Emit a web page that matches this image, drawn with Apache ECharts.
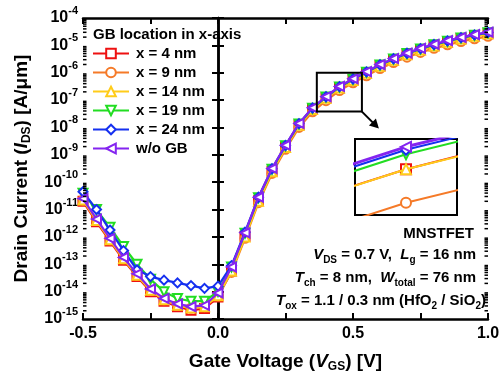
<!DOCTYPE html>
<html><head><meta charset="utf-8">
<script src="https://cdn.jsdelivr.net/npm/echarts@6/dist/echarts.min.js"></script>
<style>html,body{margin:0;padding:0;background:#fff}#c{width:504px;height:380px}</style>
</head><body><div id="c"></div>
<script>
// Gate voltage (V)
const vgs = [-0.5,-0.45,-0.4,-0.35,-0.3,-0.25,-0.2,-0.15,-0.1,-0.05,0.0,0.05,0.1,0.15,0.2,0.25,0.3,0.35,0.4,0.45,0.5,0.55,0.6,0.65,0.7,0.75,0.8,0.85,0.9,0.95,1.0];
// log10 of drain current (A/um) for each GB location
const x4nm  = [-10.7,-11.45,-12.15,-12.85,-13.45,-14.0,-14.35,-14.55,-14.68,-14.62,-14.2,-13.25,-11.98,-10.68,-9.6,-8.72,-7.91,-7.33,-6.922,-6.56,-6.272,-6.012,-5.752,-5.532,-5.332,-5.162,-5.012,-4.882,-4.762,-4.662,-4.572];
const x9nm  = [-10.65,-11.4,-12.1,-12.8,-13.4,-13.95,-14.3,-14.5,-14.6,-14.55,-14.15,-13.3,-12.05,-10.75,-9.68,-8.8,-8.0,-7.43,-7.02,-6.65,-6.37,-6.11,-5.85,-5.63,-5.43,-5.26,-5.11,-4.98,-4.86,-4.76,-4.67];
const x14nm = [-10.65,-11.4,-12.1,-12.8,-13.4,-13.95,-14.3,-14.5,-14.6,-14.55,-14.15,-13.25,-12.0,-10.7,-9.62,-8.73,-7.92,-7.34,-6.93,-6.56,-6.28,-6.02,-5.76,-5.54,-5.34,-5.17,-5.02,-4.89,-4.77,-4.67,-4.58];
const x19nm = [-10.4,-11.0,-11.65,-12.35,-13.0,-13.55,-14.0,-14.25,-14.35,-14.35,-14.0,-13.1,-11.87,-10.57,-9.53,-8.67,-7.87,-7.3,-6.89,-6.52,-6.24,-5.98,-5.72,-5.5,-5.3,-5.13,-4.98,-4.85,-4.73,-4.63,-4.54];
const x24nm = [-10.35,-11.0,-11.75,-12.5,-13.2,-13.45,-13.58,-13.68,-13.78,-13.88,-13.8,-13.05,-11.83,-10.55,-9.51,-8.66,-7.86,-7.29,-6.878,-6.508,-6.228,-5.968,-5.708,-5.488,-5.288,-5.118,-4.968,-4.838,-4.718,-4.618,-4.528];
const noGB  = [-10.6,-11.35,-12.05,-12.75,-13.35,-13.9,-14.25,-14.45,-14.55,-14.5,-14.05,-13.1,-11.85,-10.55,-9.5,-8.65,-7.85,-7.28,-6.87,-6.5,-6.22,-5.96,-5.7,-5.48,-5.28,-5.11,-4.96,-4.83,-4.71,-4.61,-4.52];
const seriesNames = ['x = 4 nm','x = 9 nm','x = 14 nm','x = 19 nm','x = 24 nm','w/o GB'];
const yTickExps = [-15,-4];   // y axis range (decades)
const xTicks = [-0.5, 1.0, 0.25];
const inX = [0.444, 0.456];   // inset window
const inY = [-6.683, -6.479];

const F = '"Liberation Sans", Arial, sans-serif';
const styles = [
  {d:x4nm,  c:'#ee1111', s:'emptyRect', r:0},
  {d:x9nm,  c:'#f57a28', s:'emptyCircle', r:0},
  {d:x14nm, c:'#ffcc1a', s:'emptyTriangle', r:0},
  {d:x19nm, c:'#22dd22', s:'emptyTriangle', r:180},
  {d:x24nm, c:'#1530f0', s:'emptyDiamond', r:0},
  {d:noGB,  c:'#8424f0', s:'emptyTriangle', r:90}
];

const series = [];
styles.forEach((st, k) => {
  const data = vgs.map((v, i) => [v, Math.pow(10, st.d[i])]);
  series.push({
    name: seriesNames[k], type:'line', xAxisIndex:0, yAxisIndex:0, data,
    symbol: st.s, symbolRotate: st.r, symbolSize: 9, z: 2 + k,
    lineStyle:{color: st.c, width: 2.2}, itemStyle:{color: st.c, borderWidth: 1.6},
    animation:false
  });
});
styles.forEach((st, k) => {
  const data = vgs.map((v, i) => [v, Math.pow(10, st.d[i])]);
  series.push({
    name: seriesNames[k], type:'line', xAxisIndex:2, yAxisIndex:2, data,
    symbol: st.s, symbolRotate: st.r, symbolSize: 10, z: 2 + k, clip: true,
    lineStyle:{color: st.c, width: k === 5 ? 3 : 2}, itemStyle:{color: st.c, borderWidth: 1.6},
    animation:false
  });
});

const axisLine = {show:true, lineStyle:{color:'#000', width:2.5}};
const tick = {show:true, inside:true, length:6, lineStyle:{color:'#000', width:2}};
const chart = echarts.init(document.getElementById('c'), null, {renderer:'canvas'});
const option = {
  animation:false,
  backgroundColor:'#fff',
  title:{text:'GB location in x-axis', left:88, top:22, textStyle:{fontFamily:F, fontSize:15, fontWeight:'bold', color:'#000'}},
  legend:{orient:'vertical', left:87, top:41, itemWidth:36, itemHeight:12, itemGap:4,
    data: seriesNames,
    textStyle:{fontFamily:F, fontSize:15, fontWeight:'bold', color:'#000', padding:[0,0,0,2]}},
  grid:[
    {left:83, right:16, top:18, bottom:61},
    {left:355, top:139, width:102, height:76, show:true, borderColor:'#000', borderWidth:2, backgroundColor:'#fff', z:1}
  ],
  xAxis:[
    {type:'value', gridIndex:0, position:'bottom', min:xTicks[0], max:xTicks[1], interval:xTicks[2],
     axisLine, axisTick:tick, splitLine:{show:false},
     axisLabel:{margin:7, fontFamily:F, fontSize:16, fontWeight:'bold', color:'#000',
       formatter: v => (Math.abs(v*2 - Math.round(v*2)) < 1e-6) ? v.toFixed(1) : ''},
     name:'Gate Voltage ({i|V}{sub|GS}) [V]', nameLocation:'middle', nameGap:31,
     nameTextStyle:{fontFamily:F, fontSize:19, fontWeight:'bold', color:'#000',
       rich:{i:{fontFamily:F, fontSize:19, fontWeight:'bold', fontStyle:'italic', color:'#000'},
             sub:{fontFamily:F, fontSize:12, fontWeight:'bold', color:'#000', padding:[11,0,0,0]}}}},
    {type:'value', gridIndex:0, position:'top', min:xTicks[0], max:xTicks[1], interval:xTicks[2],
     axisLine, axisTick:tick, axisLabel:{show:false}, splitLine:{show:false}},
    {type:'value', gridIndex:1, min:inX[0], max:inX[1], show:false}
  ],
  yAxis:[
    {type:'log', logBase:10, gridIndex:0, position:'left', min:Math.pow(10,yTickExps[0]), max:Math.pow(10,yTickExps[1]), interval:1,
     axisLine, axisTick:tick, splitLine:{show:false},
     axisLabel:{margin:5, formatter: v => '{b|10}{s|' + Math.round(Math.log10(v)) + '}',
       rich:{b:{fontFamily:F, fontSize:16, fontWeight:'bold', color:'#000'},
             s:{fontFamily:F, fontSize:11, fontWeight:'bold', color:'#000', padding:[0,0,14,0]}}},
     name:'Drain Current ({i|I}{sub|DS}) [A/\u03bcm]', nameLocation:'middle', nameRotate:90, nameGap:50,
     nameTextStyle:{fontFamily:F, fontSize:19, fontWeight:'bold', color:'#000',
       rich:{i:{fontFamily:F, fontSize:19, fontWeight:'bold', fontStyle:'italic', color:'#000'},
             sub:{fontFamily:F, fontSize:12, fontWeight:'bold', color:'#000', padding:[11,0,0,0]}}}},
    {type:'log', logBase:10, gridIndex:0, position:'right', min:Math.pow(10,yTickExps[0]), max:Math.pow(10,yTickExps[1]), interval:1,
     axisLine, axisTick:tick, axisLabel:{show:false}, splitLine:{show:false}},
    {type:'log', logBase:10, gridIndex:1, min:Math.pow(10,inY[0]), max:Math.pow(10,inY[1]), show:false}
  ],
  series
};
chart.setOption(option);

// decorations: log minor ticks, zoom box, arrow, annotation text
const g = [];
const p = (x, y) => chart.convertToPixel({gridIndex:0}, [x, y]);
const xl = p(xTicks[0], 1e-10)[0], xr = p(xTicks[1], 1e-10)[0];
for (let n = yTickExps[0]; n < yTickExps[1]; n++) {
  for (let m = 2; m <= 9; m++) {
    const y = p(0, m * Math.pow(10, n))[1];
    g.push({type:'line', shape:{x1:xl, y1:y, x2:xl+3.5, y2:y}, style:{stroke:'#000', lineWidth:1.5}, z:10});
    g.push({type:'line', shape:{x1:xr-3.5, y1:y, x2:xr, y2:y}, style:{stroke:'#000', lineWidth:1.5}, z:10});
  }
}
const a = p(0.366, Math.pow(10,-6.0)), b = p(0.533, Math.pow(10,-7.42));
g.push({type:'rect', shape:{x:a[0], y:a[1], width:b[0]-a[0], height:b[1]-a[1]}, style:{fill:'none', stroke:'#000', lineWidth:2}, z:10});
const tip = [b[0] + 17, b[1] + 17];
g.push({type:'line', shape:{x1:b[0], y1:b[1], x2:tip[0]-3, y2:tip[1]-3}, style:{stroke:'#000', lineWidth:2}, z:10});
g.push({type:'polygon', shape:{points:[[tip[0], tip[1]], [tip[0]-10, tip[1]-3], [tip[0]-3, tip[1]-10]]}, style:{fill:'#000'}, z:10});

const T = {fontFamily:F, fontSize:15, fontWeight:'bold', fill:'#000'};
const rich = {
  n:{fontFamily:F, fontSize:15, fontWeight:'bold', color:'#000'},
  i:{fontFamily:F, fontSize:15, fontWeight:'bold', fontStyle:'italic', color:'#000'},
  sub:{fontFamily:F, fontSize:10, fontWeight:'bold', color:'#000', padding:[10,0,0,0]}
};
const lines = [
  {t:'{n|MNSTFET}', x:474, y:234},
  {t:'{i|V}{sub|DS}{n| = 0.7 V,  }{i|L}{sub|g}{n| = 16 nm}', x:476, y:255},
  {t:'{i|T}{sub|ch}{n| = 8 nm,  }{i|W}{sub|total}{n| = 76 nm}', x:476, y:278},
  {t:'{i|T}{sub|ox}{n| = 1.1 / 0.3 nm (HfO}{sub|2}{n| / SiO}{sub|2}{n|)}', x:486, y:301}
];
lines.forEach(L => g.push({type:'text', x:L.x, y:L.y, z:10,
  style:Object.assign({}, T, {text:L.t, rich, align:'right', verticalAlign:'middle'})}));
chart.setOption({graphic: g});
</script></body></html>
